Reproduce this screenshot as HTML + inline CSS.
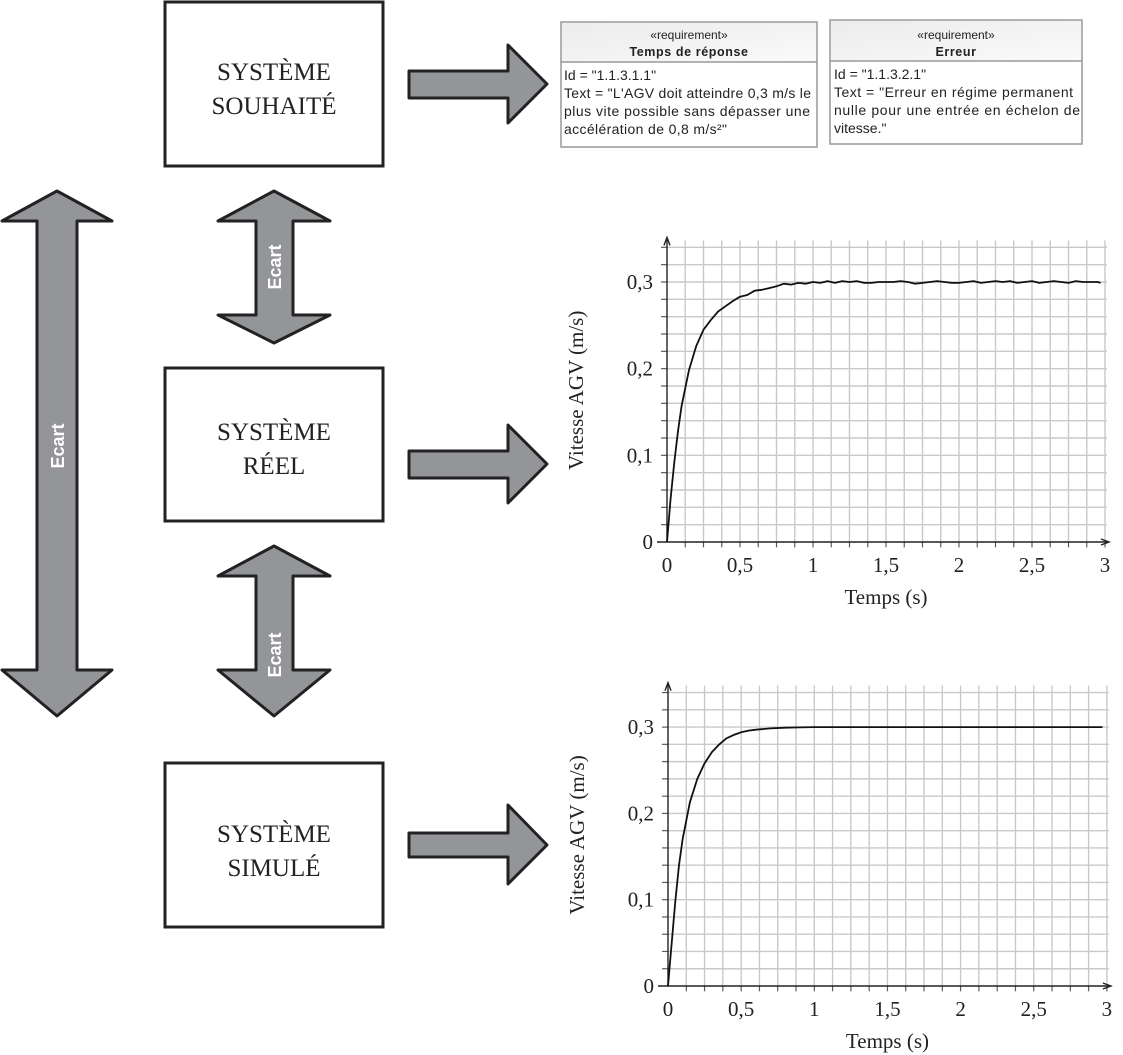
<!DOCTYPE html>
<html><head><meta charset="utf-8"><style>
body{margin:0;background:#fff;}
svg{display:block;}
.serif{font-family:"Liberation Serif",serif;}
.sans{font-family:"Liberation Sans",sans-serif;}
</style></head><body>
<svg id="root" width="1123" height="1055" viewBox="0 0 1123 1055" xmlns="http://www.w3.org/2000/svg">
<defs>
<linearGradient id="hg" x1="0" y1="0" x2="1" y2="1"><stop offset="0" stop-color="#ececec"/><stop offset="1" stop-color="#fafafa"/></linearGradient>
</defs>
<g>
<rect x="165" y="2" width="218" height="164" fill="#fff" stroke="#222" stroke-width="3"/>
<text class="serif" x="274" y="80" font-size="25" text-anchor="middle" fill="#222">SYSTÈME</text>
<text class="serif" x="274" y="114" font-size="25" text-anchor="middle" fill="#222">SOUHAITÉ</text>
</g>
<g>
<rect x="165" y="368" width="218" height="153" fill="#fff" stroke="#222" stroke-width="3"/>
<text class="serif" x="274" y="440" font-size="25" text-anchor="middle" fill="#222">SYSTÈME</text>
<text class="serif" x="274" y="474" font-size="25" text-anchor="middle" fill="#222">RÉEL</text>
</g>
<g>
<rect x="165" y="763" width="218" height="164" fill="#fff" stroke="#222" stroke-width="3"/>
<text class="serif" x="274" y="842" font-size="25" text-anchor="middle" fill="#222">SYSTÈME</text>
<text class="serif" x="274" y="876" font-size="25" text-anchor="middle" fill="#222">SIMULÉ</text>
</g>
<polygon points="409,71 508,71 508,45 547,84 508,123 508,98 409,98" fill="#939598" stroke="#222" stroke-width="3" stroke-linejoin="round"/>
<polygon points="409,451 508,451 508,425 547,464 508,503 508,478 409,478" fill="#939598" stroke="#222" stroke-width="3" stroke-linejoin="round"/>
<polygon points="409,833 508,833 508,805 547,845 508,884 508,857 409,857" fill="#939598" stroke="#222" stroke-width="3" stroke-linejoin="round"/>
<polygon points="57,191 112,221 77,221 77,670 112,670 57,716 2,670 37,670 37,221 2,221" fill="#939598" stroke="#222" stroke-width="3" stroke-linejoin="round"/>
<text class="sans" transform="translate(64,446) rotate(-90)" font-size="18" font-weight="bold" fill="#fff" text-anchor="middle">Ecart</text>
<polygon points="274,191 330,221 293,221 293,315 330,315 274,343 218,315 256,315 256,221 218,221" fill="#939598" stroke="#222" stroke-width="3" stroke-linejoin="round"/>
<text class="sans" transform="translate(281,267) rotate(-90)" font-size="18" font-weight="bold" fill="#fff" text-anchor="middle">Ecart</text>
<polygon points="274,546 330,576 293,576 293,670 330,670 274,716 218,670 256,670 256,576 218,576" fill="#939598" stroke="#222" stroke-width="3" stroke-linejoin="round"/>
<text class="sans" transform="translate(281,655) rotate(-90)" font-size="18" font-weight="bold" fill="#fff" text-anchor="middle">Ecart</text>
<g class="sans" fill="#222">
<rect x="561" y="22" width="256" height="125" fill="#fff" stroke="#999" stroke-width="1.5"/>
<rect x="562" y="23" width="254" height="39" fill="url(#hg)"/>
<line x1="561" y1="62" x2="817" y2="62" stroke="#999" stroke-width="1.5"/>
<text x="689" y="39" font-size="12" text-anchor="middle">«requirement»</text>
<text x="689" y="56" font-size="12.5" font-weight="bold" text-anchor="middle" letter-spacing="0.6">Temps de réponse</text>
<text x="564" y="80" font-size="14">Id = "1.1.3.1.1"</text>
<text x="564" y="98" font-size="14" textLength="247">Text = "L'AGV doit atteindre 0,3 m/s le</text>
<text x="564" y="116" font-size="14" textLength="246">plus vite possible sans dépasser une</text>
<text x="564" y="134" font-size="14" textLength="163">accélération de 0,8 m/s²"</text>
</g>
<g class="sans" fill="#222">
<rect x="830" y="20" width="252" height="124" fill="#fff" stroke="#999" stroke-width="1.5"/>
<rect x="831" y="21" width="250" height="40" fill="url(#hg)"/>
<line x1="830" y1="61" x2="1082" y2="61" stroke="#999" stroke-width="1.5"/>
<text x="956" y="39" font-size="12" text-anchor="middle">«requirement»</text>
<text x="956" y="56" font-size="12.5" font-weight="bold" text-anchor="middle" letter-spacing="0.6">Erreur</text>
<text x="834" y="79" font-size="14">Id = "1.1.3.2.1"</text>
<text x="834" y="97" font-size="14" textLength="239">Text = "Erreur en régime permanent</text>
<text x="834" y="115" font-size="14" textLength="246">nulle pour une entrée en échelon de</text>
<text x="834" y="133" font-size="14">vitesse."</text>
</g>
<g id="chart1"></g>
<g id="chart2"></g>
</svg>
<script>
const xTickLabels = ["0","0,5","1","1,5","2","2,5","3"];
const xTickValues = [0,0.5,1,1.5,2,2.5,3];
const yTickLabels = ["0","0,1","0,2","0,3"];
const yTickValues = [0,0.1,0.2,0.3];
const timeReal = [0,0.025,0.05,0.075,0.1,0.15,0.2,0.25,0.3,0.35,0.4,0.45,0.5,0.55,0.6,0.65,0.7,0.75,0.8,0.85,0.9,0.95,1,1.05,1.1,1.15,1.2,1.25,1.3,1.35,1.4,1.45,1.5,1.55,1.6,1.65,1.7,1.75,1.8,1.85,1.9,1.95,2,2.05,2.1,2.15,2.2,2.25,2.3,2.35,2.4,2.45,2.5,2.55,2.6,2.65,2.7,2.75,2.8,2.85,2.9,2.95,2.97];
const speedReal = [0,0.05,0.092,0.128,0.157,0.198,0.226,0.245,0.256,0.266,0.272,0.278,0.283,0.285,0.290,0.291,0.293,0.295,0.298,0.297,0.299,0.298,0.300,0.299,0.301,0.299,0.301,0.300,0.301,0.299,0.299,0.300,0.300,0.300,0.301,0.300,0.298,0.299,0.300,0.301,0.300,0.299,0.299,0.300,0.301,0.299,0.300,0.301,0.300,0.301,0.299,0.300,0.301,0.299,0.300,0.301,0.300,0.299,0.301,0.300,0.300,0.300,0.299];
const timeSim = [0,0.025,0.05,0.075,0.1,0.15,0.2,0.25,0.3,0.35,0.4,0.45,0.5,0.55,0.6,0.7,0.8,0.9,1,1.5,2,2.5,2.97];
const speedSim = [0,0.05,0.098,0.14,0.17,0.213,0.24,0.258,0.271,0.280,0.287,0.291,0.294,0.296,0.297,0.2985,0.2993,0.2997,0.3,0.3,0.3,0.3,0.3];

const NS="http://www.w3.org/2000/svg";
function mk(parent,tag,attrs){const e=document.createElementNS(NS,tag);for(const k in attrs)e.setAttribute(k,attrs[k]);parent.appendChild(e);return e;}
function drawChart(g,x0,y0,pxPerSec,pxPerUnit,times,vals,lineName){
  const X=t=>x0+t*pxPerSec, Y=v=>y0-v*pxPerUnit;
  const yMax=0.348, xMax=3.0;
  const grid=mk(g,'g',{stroke:'#c9c9c9','stroke-width':1.4});
  
  
  for(let i=1;i<=24;i++){const t=i*0.125;mk(grid,'line',{x1:X(t),y1:Y(0)+6,x2:X(t),y2:Y(yMax)});}
  for(let i=1;i<=17;i++){const v=i*0.02;mk(grid,'line',{x1:X(0)-6,y1:Y(v),x2:X(xMax)+2,y2:Y(v)});}
  const ticks=mk(g,'g',{stroke:'#555','stroke-width':1});
  for(let i=1;i<=17;i++){const v=i*0.02;mk(ticks,'line',{x1:X(0)-6,y1:Y(v),x2:X(0),y2:Y(v)});}
  for(let i=1;i<=24;i++){const t=i*0.125;mk(ticks,'line',{x1:X(t),y1:Y(0),x2:X(t),y2:Y(0)+5});}
  const ax=mk(g,'g',{stroke:'#222','stroke-width':1.4,fill:'none'});
  
  
  mk(ax,'line',{x1:X(0)-10,y1:Y(0),x2:X(xMax)+4,y2:Y(0)});
  mk(ax,'line',{x1:X(0),y1:Y(0),x2:X(0),y2:Y(yMax)-2});
  mk(ax,'path',{d:`M${X(xMax)-4},${Y(0)-3} L${X(xMax)+4},${Y(0)} L${X(xMax)-4},${Y(0)+3}`});
  mk(ax,'path',{d:`M${X(0)-3},${Y(yMax)+5} L${X(0)},${Y(yMax)-3} L${X(0)+3},${Y(yMax)+5}`});
  xTickValues.forEach((t,i)=>{const tx=mk(g,'text',{x:X(t),y:Y(0)+30,'font-size':21,'text-anchor':'middle',fill:'#222',class:'serif'});tx.textContent=xTickLabels[i];
    
    });
  yTickValues.forEach((v,i)=>{const tx=mk(g,'text',{x:X(0)-14,y:Y(v)+7,'font-size':21,'text-anchor':'end',fill:'#222',class:'serif'});tx.textContent=yTickLabels[i];
    
    });
  const xt=mk(g,'text',{x:X(1.5),y:Y(0)+62,'font-size':21,'text-anchor':'middle',fill:'#222',class:'serif'});xt.textContent='Temps (s)';
  
  
  const yt=mk(g,'text',{transform:`translate(${X(0)-84},${Y(0.175)}) rotate(-90)`,'font-size':21,'text-anchor':'middle',fill:'#222',class:'serif'});yt.textContent='Vitesse AGV (m/s)';
  
  
  const d=times.map((t,i)=>(i?'L':'M')+X(t).toFixed(1)+','+Y(vals[i]).toFixed(1)).join(' ');
  const p=mk(g,'path',{d:d,fill:'none',stroke:'#111','stroke-width':1.8,'stroke-linejoin':'round'});
  
  
}
drawChart(document.getElementById('chart1'),667,542,146,866.7,timeReal,speedReal,'real-speed-line');
drawChart(document.getElementById('chart2'),668,986,146.3,863,timeSim,speedSim,'simulated-speed-line');
</script>
</body></html>
